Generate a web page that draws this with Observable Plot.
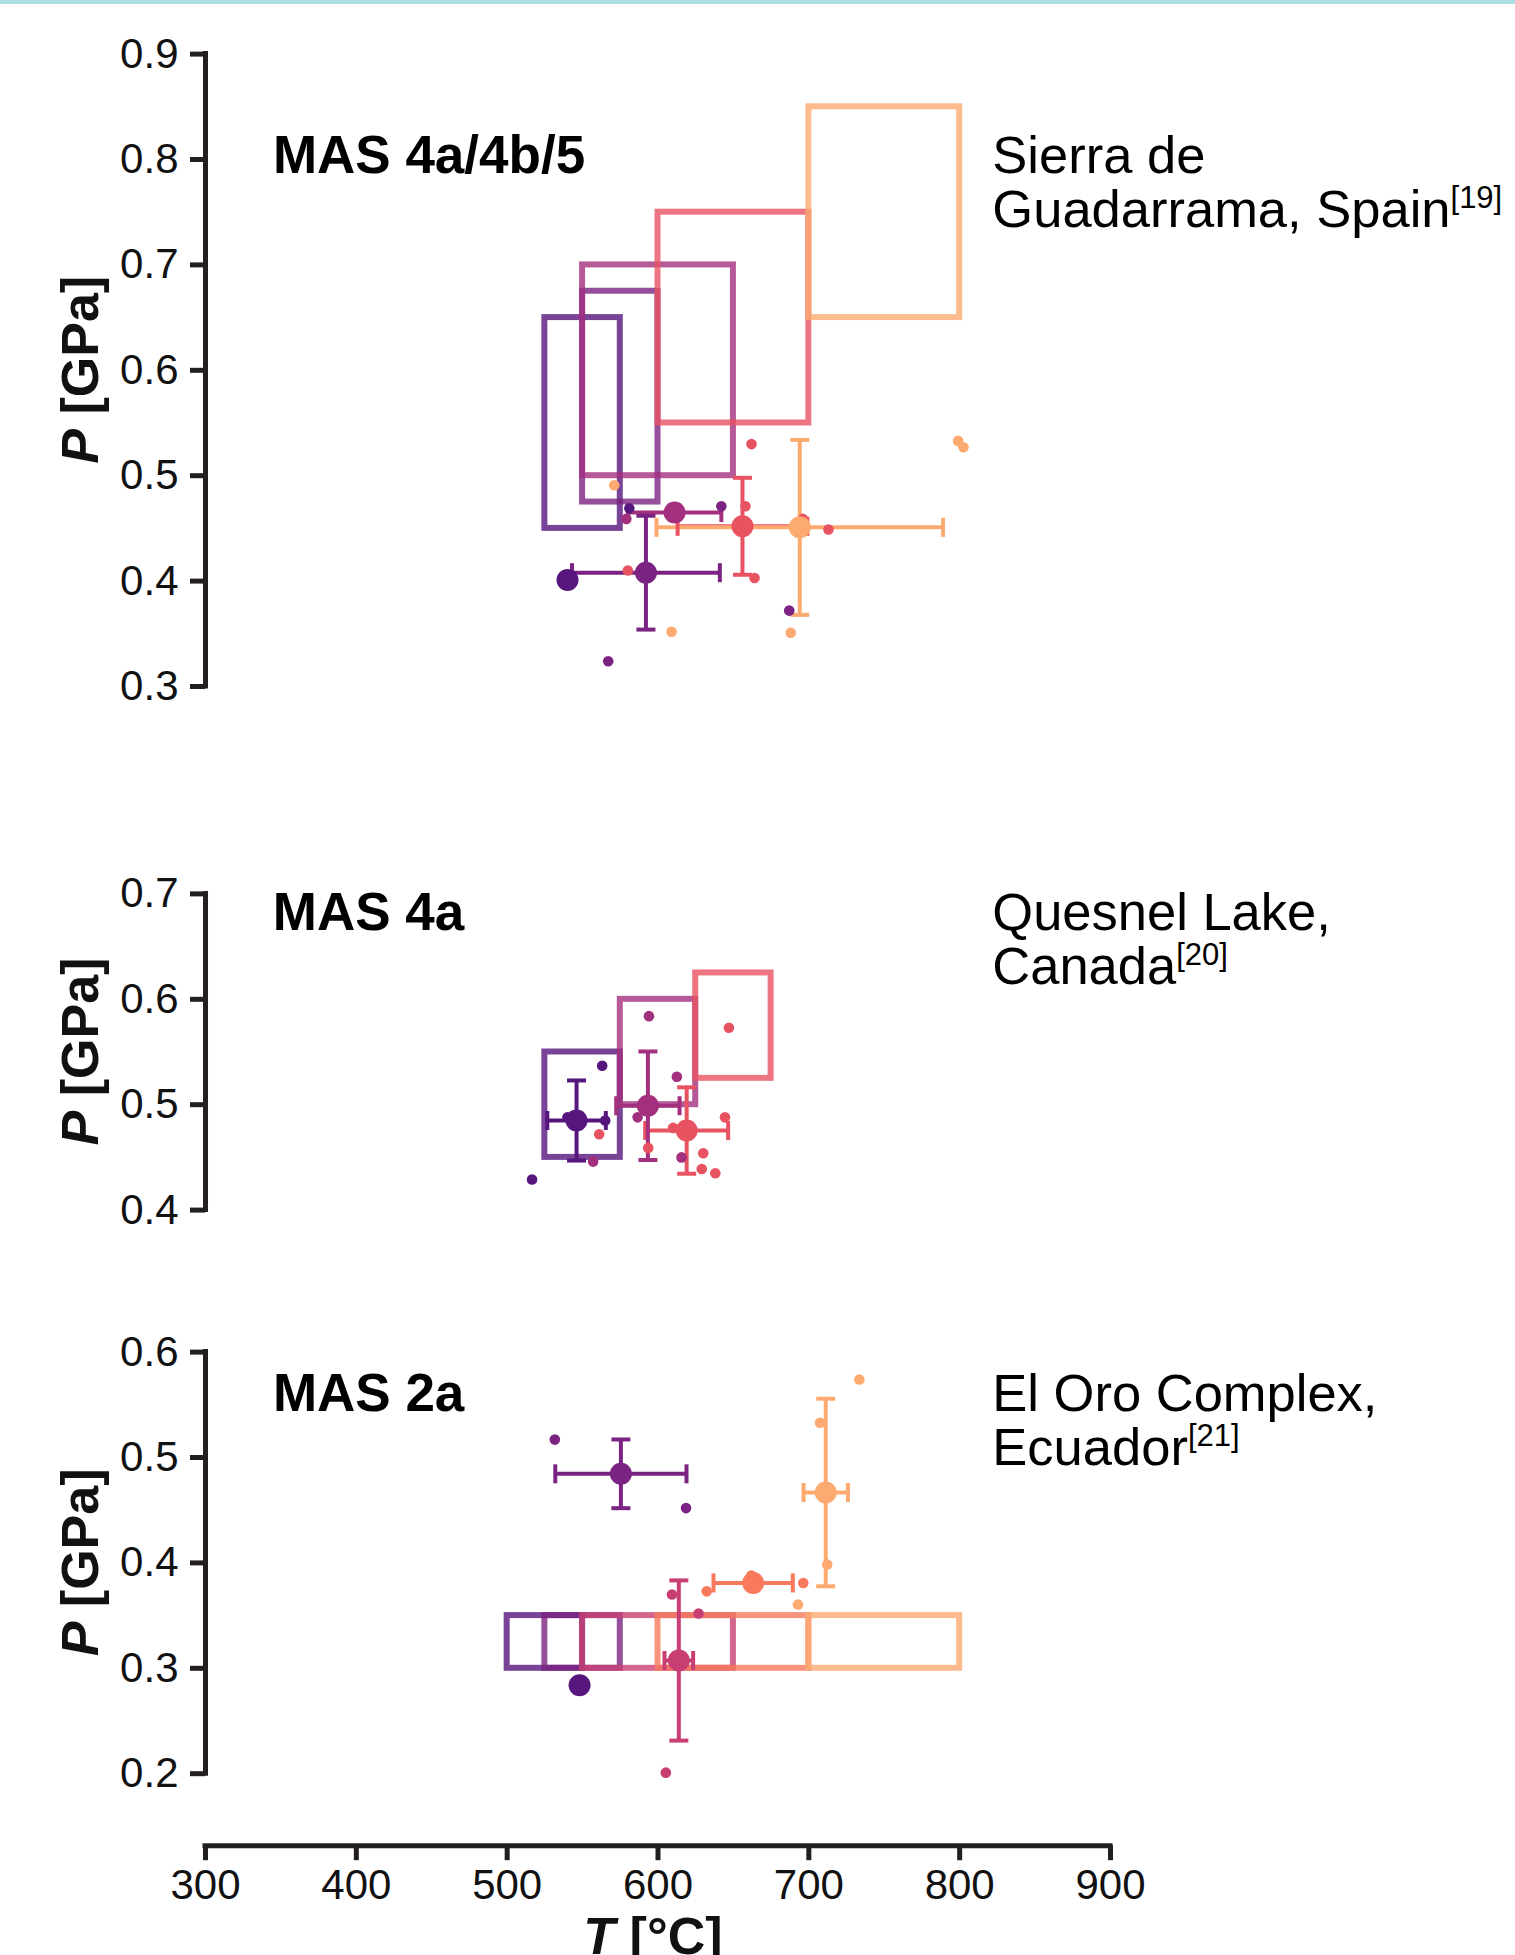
<!DOCTYPE html>
<html>
<head>
<meta charset="utf-8">
<script src="https://cdn.jsdelivr.net/npm/d3@7"></script>
<script src="https://cdn.jsdelivr.net/npm/@observablehq/plot@0.6"></script>
<style>
  html, body { margin: 0; padding: 0; background: #fff; }
  #fig { position: relative; width: 1515px; height: 1955px; overflow: hidden; background: #fff;
         font-family: "Liberation Sans", Arial, Helvetica, sans-serif; }
  #bar { position: absolute; left: 0; top: 0; width: 1515px; height: 4px; background: #acdde0; }
  #fig svg text { white-space: pre; }
</style>
</head>
<body>
<div id="fig"><div id="bar"></div></div>
<script>
// ---------------- data ----------------
const tempTicks = [300, 400, 500, 600, 700, 800, 900];
const guadPTicks = [0.3, 0.4, 0.5, 0.6, 0.7, 0.8, 0.9];
const quesPTicks = [0.4, 0.5, 0.6, 0.7];
const oroPTicks = [0.2, 0.3, 0.4, 0.5, 0.6];

// metamorphic groups, darkest to lightest
const groups = [1, 2, 3, 4, 5, 6, 7];

// Sierra de Guadarrama, Spain (MAS 4a/4b/5)
const guadBoxes = [
  {g: 1, tMin: 525, tMax: 575, pMin: 0.45, pMax: 0.65},
  {g: 2, tMin: 550, tMax: 600, pMin: 0.475, pMax: 0.675},
  {g: 3, tMin: 550, tMax: 650, pMin: 0.50, pMax: 0.70},
  {g: 5, tMin: 600, tMax: 700, pMin: 0.55, pMax: 0.75},
  {g: 7, tMin: 700, tMax: 800, pMin: 0.65, pMax: 0.85}
];
const guadMeans = [
  {g: 1, t: 540, p: 0.401, tErr: null, pErr: null},
  {g: 2, t: 592, p: 0.408, tErr: 49, pErr: 0.054},
  {g: 3, t: 611, p: 0.465, tErr: 31, pErr: null},
  {g: 5, t: 656, p: 0.452, tErr: 43, pErr: 0.046},
  {g: 7, t: 694, p: 0.451, tErr: 95, pErr: 0.083}
];
const guadSamples = [
  {g: 1, t: 581, p: 0.469},
  {g: 2, t: 642, p: 0.471}, {g: 2, t: 687, p: 0.372}, {g: 2, t: 567, p: 0.324},
  {g: 3, t: 579, p: 0.459},
  {g: 5, t: 662, p: 0.530}, {g: 5, t: 658, p: 0.471}, {g: 5, t: 696, p: 0.459},
  {g: 5, t: 713, p: 0.449}, {g: 5, t: 580, p: 0.410}, {g: 5, t: 664, p: 0.403},
  {g: 7, t: 799, p: 0.533}, {g: 7, t: 802.5, p: 0.527}, {g: 7, t: 571, p: 0.491},
  {g: 7, t: 609, p: 0.352}, {g: 7, t: 688, p: 0.351}
];

// Quesnel Lake, Canada (MAS 4a)
const quesBoxes = [
  {g: 1, tMin: 525, tMax: 575, pMin: 0.45, pMax: 0.55},
  {g: 3, tMin: 575, tMax: 625, pMin: 0.50, pMax: 0.60},
  {g: 5, tMin: 625, tMax: 675, pMin: 0.525, pMax: 0.625}
];
const quesMeans = [
  {g: 1, t: 546, p: 0.485, tErr: 19.4, pErr: 0.038},
  {g: 3, t: 593.3, p: 0.499, tErr: 21, pErr: 0.0515},
  {g: 5, t: 619, p: 0.4755, tErr: 27.5, pErr: 0.041}
];
const quesSamples = [
  {g: 1, t: 563, p: 0.537}, {g: 1, t: 565, p: 0.485}, {g: 1, t: 540, p: 0.488}, {g: 1, t: 516.5, p: 0.429},
  {g: 3, t: 557, p: 0.446}, {g: 3, t: 594, p: 0.584}, {g: 3, t: 612.5, p: 0.5265},
  {g: 3, t: 586.5, p: 0.488}, {g: 3, t: 615.6, p: 0.450},
  {g: 5, t: 561, p: 0.472}, {g: 5, t: 647, p: 0.573}, {g: 5, t: 610, p: 0.478},
  {g: 5, t: 644.4, p: 0.488}, {g: 5, t: 593.5, p: 0.459}, {g: 5, t: 630, p: 0.454},
  {g: 5, t: 629, p: 0.439}, {g: 5, t: 638, p: 0.435}
];

// El Oro Complex, Ecuador (MAS 2a)
const oroBoxes = [
  {g: 1, tMin: 500, tMax: 550, pMin: 0.30, pMax: 0.35},
  {g: 2, tMin: 525, tMax: 575, pMin: 0.30, pMax: 0.35},
  {g: 4, tMin: 550, tMax: 650, pMin: 0.30, pMax: 0.35},
  {g: 6, tMin: 600, tMax: 700, pMin: 0.30, pMax: 0.35},
  {g: 7, tMin: 700, tMax: 800, pMin: 0.30, pMax: 0.35}
];
const oroMeans = [
  {g: 1, t: 548, p: 0.284, tErr: null, pErr: null},
  {g: 2, t: 575.4, p: 0.4845, tErr: 43.5, pErr: 0.0326},
  {g: 4, t: 613.8, p: 0.3074, tErr: 9.5, pErr: 0.076},
  {g: 6, t: 663.1, p: 0.381, tErr: 26.3, pErr: null},
  {g: 7, t: 711.2, p: 0.4668, tErr: 14.7, pErr: 0.089}
];
const oroSamples = [
  {g: 2, t: 531.6, p: 0.517}, {g: 2, t: 618.6, p: 0.452},
  {g: 4, t: 609.3, p: 0.370}, {g: 4, t: 626.9, p: 0.352}, {g: 4, t: 605.2, p: 0.201},
  {g: 6, t: 696.3, p: 0.381}, {g: 6, t: 632.3, p: 0.373}, {g: 6, t: 661.9, p: 0.388},
  {g: 7, t: 733.5, p: 0.574}, {g: 7, t: 707.4, p: 0.533}, {g: 7, t: 712.2, p: 0.3985},
  {g: 7, t: 692.8, p: 0.3605}
];

// ---------------- styling ----------------
const palette = ["#57157e", "#7b2382", "#a3307e", "#c83e73", "#e85362", "#f8795c", "#fdaa70"];
const ink = "#231f20";
const FONT = '"Liberation Sans", Arial, Helvetica, sans-serif';
const PX_PER_GPA = 1054;            // vertical pixels per GPa, shared by all panels
const LABEL_T = 345;                // left edge of the panel titles (°C)
const PLACE_T = 822;                // left edge of the locality labels (°C)
const tick1 = d3.format(".1f");

// error-bar caps drawn as dot symbols, half-length = r
const capV = {draw(ctx, size) { const h = Math.sqrt(size / Math.PI); ctx.moveTo(0, -h); ctx.lineTo(0, h); }};
const capH = {draw(ctx, size) { const h = Math.sqrt(size / Math.PI); ctx.moveTo(-h, 0); ctx.lineTo(h, 0); }};

const fig = document.getElementById("fig");

function drawPanel(cfg) {
  const {pTicks, boxes, means, samples, top, marginTop, marginBottom, withXAxis} = cfg;
  const height = marginTop + (pTicks[pTicks.length - 1] - pTicks[0]) * PX_PER_GPA + marginBottom;
  const hBars = means.filter(d => d.tErr);
  const vBars = means.filter(d => d.pErr);
  const bar = {stroke: "g", strokeWidth: 4};
  const cap = {stroke: "g", strokeWidth: 4, fill: "none", r: 9.5};

  const marks = [
    // trimmed y spine + ticks
    Plot.ruleX([tempTicks[0]], {y1: pTicks[0], y2: pTicks[pTicks.length - 1], stroke: ink, strokeWidth: 5, strokeLinecap: "square"}),
    Plot.axisY({ticks: pTicks, tickFormat: tick1, tickSize: 15, tickPadding: 12, strokeWidth: 5, stroke: ink, fill: "#111", label: null}),
    // P–T boxes
    Plot.rect(boxes, {x1: "tMin", x2: "tMax", y1: "pMin", y2: "pMax", fill: "none", stroke: "g", strokeWidth: 6, strokeOpacity: 0.8}),
    // error bars
    Plot.ruleY(hBars, {y: "p", x1: d => d.t - d.tErr, x2: d => d.t + d.tErr, ...bar}),
    Plot.dot(hBars, {x: d => d.t - d.tErr, y: "p", symbol: capV, ...cap}),
    Plot.dot(hBars, {x: d => d.t + d.tErr, y: "p", symbol: capV, ...cap}),
    Plot.ruleX(vBars, {x: "t", y1: d => d.p - d.pErr, y2: d => d.p + d.pErr, ...bar}),
    Plot.dot(vBars, {x: "t", y: d => d.p - d.pErr, symbol: capH, ...cap}),
    Plot.dot(vBars, {x: "t", y: d => d.p + d.pErr, symbol: capH, ...cap}),
    // individual samples and group means
    Plot.dot(samples, {x: "t", y: "p", r: 5.3, fill: "g"}),
    Plot.dot(means, {x: "t", y: "p", r: 11, fill: "g"})
  ];
  if (withXAxis) {
    const off = cfg.xAxisOffset;
    marks.push(
      Plot.ruleY([pTicks[0]], {x1: tempTicks[0], x2: tempTicks[tempTicks.length - 1], dy: off, stroke: ink, strokeWidth: 5, strokeLinecap: "square"}),
      Plot.axisX({ticks: tempTicks, tickSize: 15, tickPadding: 8, strokeWidth: 5, stroke: ink, fill: "#111", dy: off, label: null})
    );
  }

  const plot = Plot.plot({
    width: 1515,
    height,
    marginLeft: 205,
    marginRight: 405,
    marginTop,
    marginBottom,
    x: {domain: [tempTicks[0], tempTicks[tempTicks.length - 1]], ...(withXAxis ? {} : {axis: null})},
    y: {domain: [pTicks[0], pTicks[pTicks.length - 1]]},
    color: {type: "ordinal", domain: groups, range: palette},
    style: {fontFamily: FONT, fontSize: "42px", background: "transparent", overflow: "visible", color: "#111"},
    marks
  });
  plot.style.position = "absolute";
  plot.style.left = "0px";
  plot.style.top = top + "px";
  plot.style.maxWidth = "none";

  const svg = d3.select(plot);
  const sx = plot.scale("x"), sy = plot.scale("y");

  // y-axis title
  const yMid = (sy.apply(pTicks[0]) + sy.apply(pTicks[pTicks.length - 1])) / 2;
  const yl = svg.append("text")
    .attr("transform", `translate(98,${yMid}) rotate(-90)`)
    .attr("text-anchor", "middle")
    .attr("font-family", FONT).attr("font-size", 52).attr("font-weight", "bold").attr("fill", "#111");
  yl.append("tspan").attr("font-style", "italic").text("P");
  yl.append("tspan").text(" [GPa]");

  // panel title
  const baseY = sy.apply(cfg.textP);
  svg.append("text")
    .attr("x", sx.apply(LABEL_T)).attr("y", baseY)
    .attr("text-anchor", "start")
    .attr("font-family", FONT).attr("font-size", 53).attr("font-weight", "bold").attr("fill", "#000")
    .text(cfg.title);

  // locality with reference
  const loc = svg.append("text")
    .attr("text-anchor", "start")
    .attr("font-family", FONT).attr("font-size", 52.5).attr("fill", "#000");
  loc.append("tspan").attr("x", sx.apply(PLACE_T)).attr("y", baseY).text(cfg.place[0]);
  loc.append("tspan").attr("x", sx.apply(PLACE_T)).attr("y", baseY + 54).text(cfg.place[1]);
  loc.append("tspan").attr("font-size", 31).attr("dy", -19).text(cfg.ref);

  if (withXAxis) {
    const xl = svg.append("text")
      .attr("x", sx.apply(597)).attr("y", cfg.xTitleY)
      .attr("text-anchor", "middle")
      .attr("font-family", FONT).attr("font-size", 52).attr("font-weight", "bold").attr("fill", "#111");
    xl.append("tspan").attr("font-style", "italic").text("T");
    xl.append("tspan").text(" [°C]");
  }

  fig.appendChild(plot);
}

drawPanel({
  pTicks: guadPTicks, boxes: guadBoxes, means: guadMeans, samples: guadSamples,
  top: 0, marginTop: 53.6, marginBottom: 30,
  title: "MAS 4a/4b/5", place: ["Sierra de", "Guadarrama, Spain"], ref: "[19]", textP: 0.787
});
drawPanel({
  pTicks: quesPTicks, boxes: quesBoxes, means: quesMeans, samples: quesSamples,
  top: 840, marginTop: 53.4, marginBottom: 30,
  title: "MAS 4a", place: ["Quesnel Lake,", "Canada"], ref: "[20]", textP: 0.665
});
drawPanel({
  pTicks: oroPTicks, boxes: oroBoxes, means: oroMeans, samples: oroSamples,
  top: 1300, marginTop: 51.6, marginBottom: 181.8,
  title: "MAS 2a", place: ["El Oro Complex,", "Ecuador"], ref: "[21]", textP: 0.544,
  withXAxis: true, xAxisOffset: 72, xTitleY: 654
});
</script>
</body>
</html>
